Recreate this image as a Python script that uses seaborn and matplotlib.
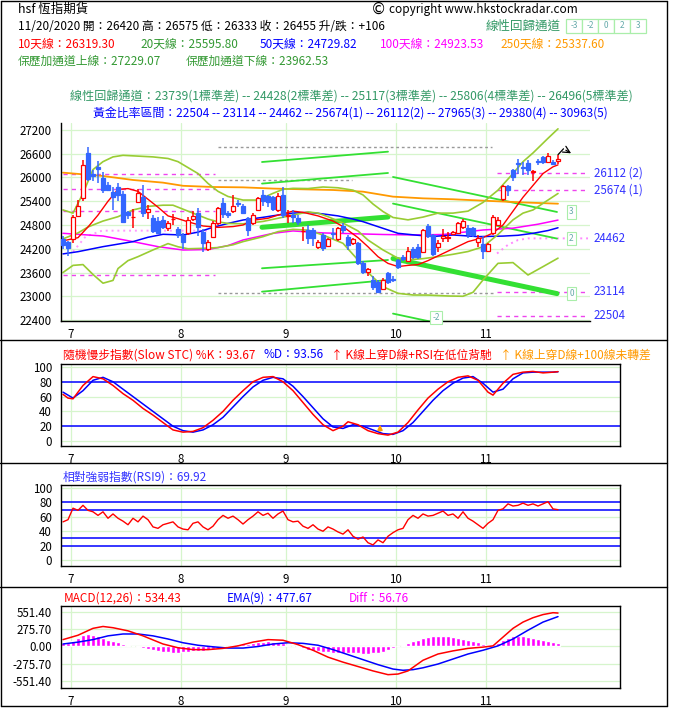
import numpy as np
import pandas as pd
import matplotlib
matplotlib.use("Agg")
import matplotlib.pyplot as plt
import seaborn as sns
from matplotlib.patches import Rectangle
from matplotlib.lines import Line2D

sns.set_theme(style="white")
plt.rcParams['font.family'] = ['Noto Sans CJK TC', 'DejaVu Sans']
plt.rcParams['axes.unicode_minus'] = False

# ---------------- data ----------------
month_labels = ["7", "8", "9", "10", "11"]
month_start = [2, 24, 45, 67, 85]

opens = [24450, 24360, 24440, 25030, 25480, 26610, 26090, 26260, 25990, 25810,
         25640, 25760, 25590, 25120, 24990, 25380, 25500, 25130, 24980, 24910,
         24920, 24720, 24940, 24690, 24550, 24590, 24940, 25100, 24630, 24185,
         24505, 24840, 25360, 25110, 25160, 25360, 25280, 24970, 24860, 25180,
         25560, 25530, 25500, 25180, 25560, 25030, 25050, 24970, 24640, 24670,
         24670, 24236, 24550, 24270, 24600, 24440, 24775, 24505, 24350, 24350,
         23850, 23620, 23410, 23370, 23175, 23580, 23440, 23920, 23990, 23900,
         24190, 24240, 24130, 24775, 24550, 24250, 24460, 24460, 24570, 24590,
         24740, 24720, 24720, 24380, 24320, 24150, 24590, 24800, 25450, 25790,
         26190, 26370, 26270, 26360, 26140, 26410, 26530, 26400, 26400, 26420]
highs = [24520, 24400, 25060, 25430, 26440, 26780, 26200, 26420, 26150, 25880,
         25760, 25850, 25650, 25150, 25200, 25700, 25800, 25300, 25050, 25000,
         25020, 24900, 25080, 24750, 24600, 25000, 25150, 25230, 24700, 24420,
         24900, 25250, 25470, 25150, 25560, 25420, 25320, 25000, 25100, 25500,
         25680, 25560, 25530, 25600, 25770, 25180, 25180, 25050, 24760, 24800,
         24720, 24420, 24600, 24480, 24720, 24760, 24850, 24550, 24470, 24380,
         23900, 23720, 23500, 23400, 23450, 23620, 23500, 23950, 24050, 24250,
         24250, 24330, 24700, 24830, 24580, 24420, 24700, 24630, 24650, 24870,
         24960, 24800, 24760, 24540, 24520, 24340, 25050, 25000, 25810, 25820,
         26210, 26460, 26400, 26440, 26190, 26460, 26540, 26630, 26430, 26575]
lows = [24200, 24020, 24350, 25000, 25400, 25900, 25900, 25850, 25600, 25650,
        25180, 25400, 24850, 24950, 24720, 25350, 25000, 24950, 24600, 24560,
        24700, 24650, 24800, 24480, 24200, 24550, 24900, 24520, 24120, 24150,
        24480, 24800, 24970, 24980, 25100, 25250, 25080, 24520, 24800, 25150,
        25280, 25250, 25150, 25140, 24980, 24840, 24850, 24800, 24400, 24330,
        24270, 24200, 24150, 24240, 24450, 24400, 24600, 24160, 24300, 23800,
        23560, 23500, 23160, 23080, 23150, 23300, 23350, 23700, 23880, 23880,
        23950, 23950, 24100, 24480, 24020, 24130, 24380, 24380, 24540, 24570,
        24700, 24460, 24500, 24250, 23930, 24120, 24550, 24780, 25400, 25520,
        25900, 26100, 26060, 26060, 25900, 26320, 26330, 26360, 26310, 26333]
closes = [24290, 24210, 25000, 25280, 26310, 25960, 26050, 26215, 25690, 25690,
          25500, 25560, 24880, 25060, 25000, 25600, 25100, 25200, 24650, 24600,
          24740, 24840, 24955, 24550, 24380, 24930, 25030, 24740, 24350, 24380,
          24860, 25220, 25080, 25040, 25280, 25330, 25110, 24670, 25050, 25470,
          25410, 25390, 25200, 25520, 25050, 25050, 25000, 24880, 24660, 24460,
          24460, 24380, 24210, 24440, 24560, 24720, 24675, 24295, 24440, 23850,
          23620, 23680, 23230, 23120, 23410, 23370, 23420, 23730, 23930, 24140,
          24000, 24000, 24670, 24520, 24070, 24340, 24510, 24500, 24630, 24840,
          24910, 24570, 24550, 24460, 24150, 24320, 24990, 24930, 25790, 25680,
          26000, 26350, 26250, 26190, 26160, 26390, 26380, 26545, 26340, 26455]

# moving averages / bands read at sample positions
ma10_x = [0, 3, 5, 7, 9, 11, 13, 15, 17, 19, 21, 23, 25, 28, 31, 34, 36, 38, 41, 43, 46, 48,
          51, 54, 56, 59, 61, 63, 65, 67, 69, 71, 73, 75, 78, 81, 84, 86, 88, 90, 92, 94, 96, 98, 99]
ma10_y = [24400, 24480, 24750, 25050, 25400, 25700, 25720, 25650, 25450, 25250, 25030, 24960,
          24880, 24775, 24740, 24760, 24800, 24920, 24970, 25050, 25150, 25120, 25030, 24900,
          24760, 24480, 24250, 24000, 23830, 23750, 23780, 23800, 23900, 24020, 24200, 24380,
          24480, 24600, 24800, 25150, 25500, 25800, 26100, 26270, 26319]
bbu_x = [0, 2, 4, 6, 8, 10, 12, 15, 18, 21, 23, 25, 27, 29, 31, 33, 36, 39, 42, 44, 46, 49, 52,
         55, 58, 60, 62, 64, 66, 69, 72, 75, 78, 81, 84, 87, 90, 92, 94, 97, 99]
bbu_y = [25180, 25100, 25600, 26200, 26400, 26520, 26560, 26540, 26520, 26480, 26400, 26250,
         26100, 25850, 25650, 25520, 25430, 25430, 25600, 25700, 25726, 25720, 25760, 25740,
         25680, 25560, 25330, 25140, 24990, 24930, 25000, 25100, 25100, 25150, 25370, 25680,
         26100, 26400, 26620, 26990, 27229]
ma20_x = [0, 3, 5, 8, 11, 14, 17, 20, 22, 23, 25, 27, 29, 31, 33, 36, 38, 40, 43, 46, 49, 51, 53,
          56, 59, 61, 64, 67, 69, 72, 75, 78, 81, 84, 87, 90, 92, 94, 97, 99]
ma20_y = [24450, 24600, 24750, 24900, 25010, 25180, 25270, 25300, 25300, 25250, 25150, 25050,
          24950, 24880, 24840, 24830, 24860, 24890, 24970, 25050, 25130, 25100, 25010, 24850,
          24650, 24420, 24170, 23960, 23920, 23950, 24000, 24060, 24130, 24250, 24560, 24930,
          25100, 25180, 25430, 25596]
bbl_x = [0, 2, 4, 6, 8, 10, 11, 13, 15, 18, 21, 23, 25, 28, 31, 34, 36, 40, 43, 46, 49, 52, 56,
         59, 61, 64, 67, 70, 73, 77, 80, 82, 84, 87, 90, 93, 96, 99]
bbl_y = [23600, 23780, 23800, 23550, 23330, 23400, 23700, 23900, 24000, 24170, 24330, 24250,
         24200, 24210, 24230, 24300, 24380, 24505, 24632, 24690, 24670, 24547, 24337, 23916,
         23600, 23242, 23074, 23032, 23030, 23007, 23000, 23100, 23411, 23832, 23850, 23537,
         23748, 23962]
ma50_x = [0, 3, 8, 14, 17, 20, 24, 27, 30, 33, 36, 40, 43, 46, 49, 52, 55, 58, 60, 63, 67, 71,
          74, 78, 83, 88, 91, 94, 97, 99]
ma50_y = [24070, 24126, 24253, 24380, 24490, 24565, 24547, 24620, 24741, 24840, 24926, 24994,
          25052, 25100, 25120, 25080, 25030, 24950, 24884, 24758, 24590, 24540, 24510, 24548,
          24506, 24520, 24540, 24590, 24660, 24730]
ma100_x = [0, 8, 14, 19, 24, 29, 33, 36, 42, 46, 52, 58, 64, 70, 76, 84, 90, 95, 99]
ma100_y = [24590, 24522, 24380, 24253, 24168, 24180, 24280, 24421, 24590, 24650, 24600, 24580,
           24560, 24548, 24560, 24674, 24720, 24820, 24924]
ma250_x = [0, 8, 14, 20, 24, 30, 36, 42, 48, 54, 60, 66, 72, 78, 84, 92, 99]
ma250_y = [26122, 26038, 25937, 25870, 25790, 25760, 25751, 25720, 25701, 25684, 25642, 25516,
           25473, 25450, 25415, 25370, 25338]

# linear regression channels (start/end positions, levels in sigma order +3,+2,0,-2,-3)
regA_x = [39.8, 65.0]
regA_lv = [[26391, 26652], [25846, 26114], [24742, 25002], [23707, 23916], [23116, 23410]]
regB_x = [66.0, 98.8]
regB_lv = [[26013, 25129], [25341, 24457], [23952, 23067], [22562, 21678], [21950, 21066]]
reg_sig = ["3", "2", "0", "-2", "-3"]

# golden-ratio level lines
gold_jul_x = [0, 30.4]
gold_jul = [26081, 25702, 25154, 23537]
gold_jul_dot_x = [2, 4.5, 7.8, 30.4]
gold_jul_dot_y = [24126, 24505, 24657, 24657]
gray_lv = [26770, 25930, 23083]
gray_x = [[31.0, 85.8], [31.0, 57.8], [31.0, 86.4]]
gold_nov_x = [86.8, 105.0]
gold_nov = [26112, 25674, 23114, 22504]
gold_nov_dot_x = [86.8, 89, 91, 93, 105.0]
gold_nov_dot_y = [24080, 24300, 24420, 24462, 24462]
gold_labels = ["26112 (2)", "25674 (1)", "24462", "23114", "22504"]
gold_label_vals = [26112, 25674, 24462, 23114, 22504]

# slow stochastic
stk_x = [0, 1, 2, 4, 6, 8, 10, 12, 14, 16, 18, 20, 22, 24, 26, 28, 30, 32, 34, 36, 38, 40, 42,
         44, 46, 48, 50, 52, 54, 56, 57, 59, 61, 63, 65, 67, 69, 71, 73, 75, 77, 79, 81, 83, 85,
         86, 88, 90, 92, 94, 96, 98, 99]
stk_y = [63, 58, 57, 75, 87, 84, 75, 64, 55, 44, 35, 25, 15, 12, 13, 18, 28, 40, 55, 68, 80, 86,
         87, 80, 68, 52, 36, 22, 14, 20, 26, 22, 14, 10, 8, 12, 25, 42, 58, 70, 80, 86, 88, 82,
         66, 62, 78, 90, 93, 94, 92, 93, 93.67]
std_x = [0, 2, 4, 6, 8, 10, 12, 14, 16, 18, 20, 22, 24, 26, 28, 30, 32, 34, 36, 38, 40, 42, 44,
         46, 48, 50, 52, 54, 56, 58, 60, 62, 64, 66, 68, 70, 72, 74, 76, 78, 80, 82, 84, 86, 88,
         90, 92, 94, 96, 98, 99]
std_y = [66, 58, 68, 82, 86, 80, 70, 60, 50, 40, 30, 20, 14, 12, 15, 22, 32, 46, 60, 73, 82, 86,
         84, 74, 60, 45, 30, 19, 17, 22, 20, 15, 10, 9, 14, 25, 40, 55, 68, 78, 85, 87, 78, 66,
         70, 84, 92, 93, 93, 93, 93.56]

# RSI(9)
rsi = [53, 56, 72, 69, 76, 69, 67, 62, 67, 58, 64, 58, 54, 49, 58, 53, 61, 56, 46, 44, 49, 51, 53, 46, 43,
       42, 51, 53, 46, 42, 47, 56, 62, 58, 61, 56, 50, 56, 61, 67, 62, 65, 58, 64, 68, 56, 53, 54, 47, 44,
       49, 43, 40, 46, 43, 39, 36, 42, 33, 29, 32, 24, 21, 28, 24, 33, 38, 42, 44, 56, 62, 58, 64, 61, 62,
       65, 68, 62, 64, 58, 67, 58, 54, 49, 44, 51, 56, 69, 71, 78, 75, 76, 79, 76, 78, 75, 78, 81, 71, 69.92]

# MACD
macd_x = [0, 3, 6, 8, 10, 13, 16, 20, 23, 26, 29, 32, 35, 38, 41, 44, 47, 50, 53, 56, 59, 62, 65,
          67, 69, 72, 75, 78, 81, 84, 86, 88, 90, 92, 94, 96, 98, 99]
macd_y = [110, 180, 290, 320, 300, 250, 170, 40, -20, -50, -50, -30, 10, 70, 110, 100, 30, -60,
          -170, -250, -320, -390, -450, -440, -390, -220, -120, -70, -30, -10, 10, 150, 290, 390,
          460, 510, 540, 534.43]
ema_x = [0, 3, 6, 9, 12, 15, 18, 21, 24, 27, 30, 33, 36, 39, 42, 45, 48, 51, 54, 57, 60, 63, 66,
         68, 70, 72, 75, 78, 81, 84, 87, 90, 93, 96, 99]
ema_y = [40, 70, 110, 170, 200, 200, 170, 120, 60, 20, -5, -25, -25, 0, 40, 60, 50, 20, -50, -130,
         -210, -290, -360, -380, -370, -340, -280, -200, -120, -60, 10, 120, 260, 390, 477.67]
diff = [60, 50, 90, 130, 180, 200, 190, 170, 140, 110, 90, 70, 40, 20, 5, -10, -25, -40, -60, -75, -85, -95, -100, -100, -95,
        -85, -75, -70, -65, -55, -40, -25, -10, 5, 20, 35, 40, 45, 55, 65, 75, 80, 75, 65, 50, 30, 10, -10, -30, -50,
        -65, -75, -85, -95, -100, -105, -110, -105, -100, -110, -120, -115, -110, -100, -80, -55, -30, 0, 30, 60, 90, 110, 130, 150, 160,
        165, 165, 160, 150, 140, 125, 110, 90, 70, 45, 25, 30, 60, 110, 140, 160, 165, 160, 150, 135, 120, 105, 90, 70, 56.76]

# ---------------- colours ----------------
RED = "#ff0000"
BLUE = "#0000ff"
CBLUE = "#3366ff"
MAG = "#ff00ff"
ORG = "#ff9900"
YG = "#99cc33"
GRN = "#339933"
SEAG = "#339966"
LIME = "#33e033"
GRID = "#d6f5cc"
PINK = "#ee44ee"

W, H = 677, 717
fig = plt.figure(figsize=(W / 100, H / 100), dpi=100)
fig.patch.set_facecolor("white")


def add_ax(x0, y0, x1, y1):
    return fig.add_axes([x0 / W, 1 - y1 / H, (x1 - x0) / W, (y1 - y0) / H])


def ftext(x, y, s, **kw):
    kw.setdefault("fontsize", 8.5)
    kw.setdefault("va", "center")
    fig.text(x / W, 1 - y / H, s, **kw)


def fline(x0, y0, x1, y1, **kw):
    fig.add_artist(Line2D([x0 / W, x1 / W], [1 - y0 / H, 1 - y1 / H], transform=fig.transFigure, **kw))


def line(ax, xs, ys, color, lw=1.0, **kw):
    sns.lineplot(x=xs, y=ys, ax=ax, color=color, linewidth=lw, legend=False,
                 estimator=None, sort=False, **kw)


def style_panel(ax, xmax):
    ax.set_xlim(-0.5, xmax)
    ax.set_xticks([m - 0.5 for m in month_start])
    ax.set_xticklabels(month_labels)
    ax.tick_params(axis="both", length=0, labelsize=8.3, colors="black")
    ax.tick_params(axis="x", pad=5)
    ax.tick_params(axis="y", pad=6)
    for m in month_start:
        ax.axvline(m - 0.5, color=GRID, lw=0.9, zorder=0)
    ax.set_xlabel("")
    ax.set_ylabel("")


# ---------------- main price panel ----------------
ax = add_ax(60.5, 122.7, 590, 321)
style_panel(ax, 105.4)
ax.set_ylim(22375, 27384)
yt = list(range(22400, 27201, 600))
ax.set_yticks(yt)
ax.set_yticklabels([str(v) for v in yt])
for v in yt:
    ax.axhline(v, color=GRID, lw=0.9, zorder=0)
for s in ["top", "right"]:
    ax.spines[s].set_visible(False)
for s in ["left", "bottom"]:
    ax.spines[s].set_color("black")
    ax.spines[s].set_linewidth(1)

# golden ratio & gray levels
for v in gold_jul:
    line(ax, gold_jul_x, [v, v], PINK, lw=1, linestyle=(0, (3, 3)))
line(ax, gold_jul_dot_x, gold_jul_dot_y, "#ff99ff", lw=1.4, linestyle=(0, (1, 2)))
for v, xs in zip(gray_lv, gray_x):
    line(ax, xs, [v, v], "#999999", lw=1, linestyle=(0, (2, 2)))
for v in gold_nov:
    line(ax, gold_nov_x, [v, v], PINK, lw=1, linestyle=(0, (3, 3)))
line(ax, gold_nov_dot_x, gold_nov_dot_y, "#ff88ff", lw=1.4, linestyle=(0, (1, 2)))

# regression channels
for lvA, lvB, sg in zip(regA_lv, regB_lv, reg_sig):
    lw = 3.6 if sg == "0" else 1.3
    line(ax, regA_x, lvA, LIME, lw=lw)
    line(ax, regB_x, lvB, LIME, lw=lw)

# moving averages and bands
line(ax, ma250_x, ma250_y, ORG, lw=1.3)
line(ax, ma100_x, ma100_y, MAG, lw=1.1)
line(ax, ma50_x, ma50_y, BLUE, lw=1.1)
line(ax, bbu_x, bbu_y, YG, lw=1.2)
line(ax, ma20_x, ma20_y, YG, lw=1.2)
line(ax, bbl_x, bbl_y, YG, lw=1.2)
line(ax, ma10_x, ma10_y, RED, lw=1.0)

# candles
xs = np.arange(len(closes))
up = [c >= o for o, c in zip(opens, closes)]
for i in xs:
    o, h, l, c = opens[i], highs[i], lows[i], closes[i]
    col = RED if up[i] else CBLUE
    ax.vlines(i, l, h, color=col, lw=1.1, zorder=5)
    lo, hi = min(o, c), max(o, c)
    ax.add_patch(Rectangle((i - 0.42, lo), 0.84, max(hi - lo, 18),
                           facecolor="white" if up[i] else CBLUE,
                           edgecolor=col, lw=0.9, zorder=6))

# labels at right of channel / golden levels
lab_box = dict(boxstyle="square,pad=0.25", fc="white", ec="#aaeeaa", lw=0.8)
for lvB, sg in zip(regB_lv, reg_sig):
    if sg in ("3", "2", "0"):
        ax.text(regB_x[1] + 2.9, lvB[1], sg, fontsize=6, color="#66aaaa", ha="center",
                va="center", bbox=lab_box, zorder=8)
ax.text(74.6, 22470, "-2", fontsize=6, color="#66aaaa", ha="center", va="center",
        bbox=lab_box, zorder=8, clip_on=False)
for s, v in zip(gold_labels, gold_label_vals):
    ax.text(106.2, v, s, fontsize=8.3, color="#3333ff", ha="left", va="center", clip_on=False)

# little arrow after last candle
hx = len(closes) - 1
ax.plot([hx, hx + 1.1], [highs[hx], highs[hx] + 150], color="black", lw=0.9, clip_on=False)
ax.annotate("", xy=(hx + 3.1, highs[hx]), xytext=(hx + 1.1, highs[hx] + 150),
            arrowprops=dict(arrowstyle="->", color="black", lw=0.9), annotation_clip=False)

# ---------------- slow stochastic panel ----------------
a2 = add_ax(60.5, 364, 620, 446)
style_panel(a2, 111.4)
a2.set_ylim(-6.7, 104)
a2.set_yticks([100, 80, 60, 40, 20, 0])
a2.set_yticklabels(["100", "80", "60", "40", "20", "0"])
for v in [100, 60, 40, 0]:
    a2.axhline(v, color=GRID, lw=0.9, zorder=0)
for v in [80, 20]:
    a2.axhline(v, color=BLUE, lw=1.1, zorder=1)
line(a2, std_x, std_y, BLUE, lw=1.1)
line(a2, stk_x, stk_y, RED, lw=1.1)
a2.annotate("", xy=(63.4, 26), xytext=(63.4, 10),
            arrowprops=dict(arrowstyle="-|>", color=ORG, lw=1.2, mutation_scale=7))

# ---------------- RSI panel ----------------
a3 = add_ax(60.5, 485, 620, 566)
style_panel(a3, 111.4)
a3.set_ylim(-8.3, 104.2)
a3.set_yticks([100, 80, 60, 40, 20, 0])
a3.set_yticklabels(["100", "80", "60", "40", "20", "0"])
for v in [100, 60, 40, 0]:
    a3.axhline(v, color=GRID, lw=0.9, zorder=0)
for v in [80, 70, 30, 20]:
    a3.axhline(v, color=BLUE, lw=1.1, zorder=1)
line(a3, list(range(len(rsi))), rsi, RED, lw=1.0)

# ---------------- MACD panel ----------------
a4 = add_ax(60.5, 606, 620, 688)
style_panel(a4, 111.4)
a4.set_ylim(-663, 647)
mt = [551.40, 275.70, 0.0, -275.70, -551.40]
a4.set_yticks(mt)
a4.set_yticklabels(["551.40", "275.70", "0.00", "-275.70", "-551.40"])
for v in mt:
    a4.axhline(v, color=GRID, lw=0.9, zorder=0)
a4.bar(list(range(len(diff))), diff, width=0.62, color=MAG, zorder=2)
line(a4, ema_x, ema_y, BLUE, lw=1.1)
line(a4, macd_x, macd_y, RED, lw=1.1)

for a in (a2, a3, a4):
    for s in a.spines.values():
        s.set_visible(True)
        s.set_color("black")
        s.set_linewidth(1)

# ---------------- header texts ----------------
ftext(18, 9, "hsf 恆指期貨", color="black", fontsize=9)
ftext(18, 26, "11/20/2020 開：26420 高：26575 低：26333 收：26455 升/跌：+106", color="black")
ftext(18, 44, "10天線：26319.30", color=RED)
ftext(140, 44, "20天線：25595.80", color=GRN)
ftext(260, 44, "50天線：24729.82", color=BLUE)
ftext(380, 44, "100天線：24923.53", color=MAG)
ftext(500, 44, "250天線：25337.60", color=ORG)
ftext(18, 61, "保歷加通道上線：27229.07", color=GRN)
ftext(186, 61, "保歷加通道下線：23962.53", color=GRN)
ftext(371, 9, "©", color="black", fontsize=11, family="DejaVu Sans")
ftext(389, 9, "copyright www.hkstockradar.com", color="black")
ftext(486, 26, "線性回歸通道", color=SEAG, fontsize=9)
for k, s in enumerate(["-3", "-2", "0", "2", "3"]):
    x0 = 566 + 16 * k
    fig.add_artist(Rectangle((x0 / W, 1 - 33 / H), 16 / W, 14 / H, transform=fig.transFigure,
                             fc="white", ec="#aaeeaa", lw=0.9))
    ftext(x0 + 8, 26, s, color="#66aaaa", fontsize=6, ha="center")

ftext(351, 96, "線性回歸通道：23739(1標準差) -- 24428(2標準差) -- 25117(3標準差) -- 25806(4標準差) -- 26496(5標準差)",
      color=SEAG, ha="center", fontsize=8.7)
ftext(350, 113, "黃金比率區間：22504 -- 23114 -- 24462 -- 25674(1) -- 26112(2) -- 27965(3) -- 29380(4) -- 30963(5)",
      color=BLUE, ha="center", fontsize=8.6)

ftext(63, 355, "隨機慢步指數(Slow STC) %K：93.67", color=RED)
ftext(264, 355, "%D：93.56", color=BLUE)
ftext(331, 355, "↑ K線上穿D線+RSI在低位背馳", color=RED)
ftext(500, 355, "↑ K線上穿D線+100線未轉差", color=ORG)

ftext(63, 477, "相對強弱指數(RSI9)：69.92", color="#3333ff")

ftext(64, 598, "MACD(12,26)：534.43", color=RED)
ftext(227, 598, "EMA(9)：477.67", color=BLUE)
ftext(349, 598, "Diff：56.76", color=MAG)

# separators and outer frame
for yy in (340, 463, 587):
    fline(0, yy, 667, yy, color="black", lw=1)
fline(0.5, 0.5, 667, 0.5, color="black", lw=1)
fline(0.5, 0.5, 0.5, 706, color="black", lw=1)
fline(667, 0.5, 667, 706, color="black", lw=1)
fline(0.5, 706, 667, 706, color="black", lw=1)

fig.savefig("out.png", dpi=100, facecolor="white")
